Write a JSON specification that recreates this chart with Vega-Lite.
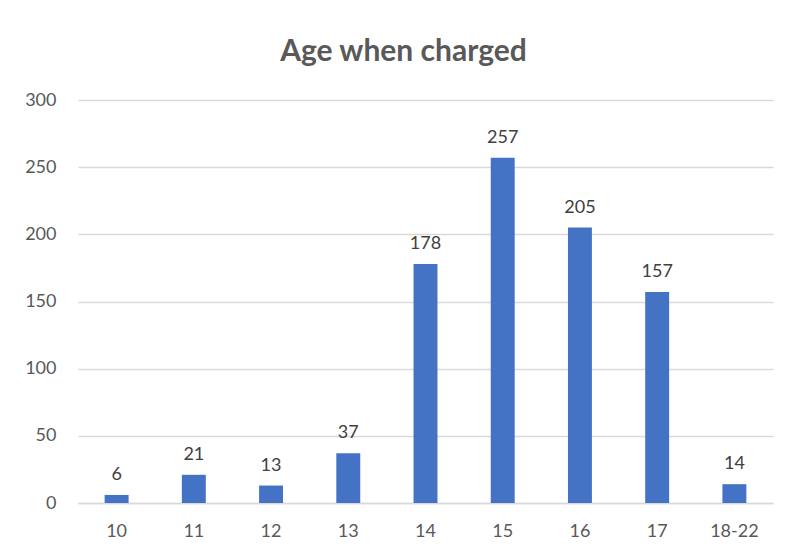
{
  "$schema": "https://vega.github.io/schema/vega-lite/v6.json",
  "width": 695,
  "height": 403,
  "autosize": "none",
  "padding": {"left": 78, "top": 100, "right": 17, "bottom": 51},
  "background": "white",
  "title": {
    "text": "Age when charged",
    "font": "Lato",
    "fontSize": 30,
    "fontWeight": "bold",
    "color": "#595959",
    "anchor": "middle",
    "dx": -22,
    "offset": 24
  },
  "data": {
    "values": [
      {"age": "10", "count": 6},
      {"age": "11", "count": 21},
      {"age": "12", "count": 13},
      {"age": "13", "count": 37},
      {"age": "14", "count": 178},
      {"age": "15", "count": 257},
      {"age": "16", "count": 205},
      {"age": "17", "count": 157},
      {"age": "18-22", "count": 14}
    ]
  },
  "config": {
    "view": {"stroke": null},
    "font": "Lato"
  },
  "encoding": {
    "x": {
      "field": "age",
      "type": "nominal",
      "sort": null,
      "scale": {"paddingInner": 0.69, "paddingOuter": 0.345},
      "axis": {
        "title": null,
        "labelAngle": 0,
        "labelFont": "Lato",
        "labelFontSize": 18,
        "labelColor": "#595959",
        "labelPadding": 19,
        "ticks": false,
        "domainColor": "#D9D9D9",
        "domainWidth": 1.5
      }
    },
    "y": {
      "field": "count",
      "type": "quantitative",
      "scale": {"domain": [0, 300]},
      "axis": {
        "title": null,
        "values": [0, 50, 100, 150, 200, 250, 300],
        "labelFont": "Lato",
        "labelFontSize": 18,
        "labelColor": "#595959",
        "labelPadding": 22,
        "ticks": false,
        "domain": false,
        "gridColor": "#D9D9D9",
        "gridWidth": 1.5
      }
    }
  },
  "layer": [
    {"mark": {"type": "bar", "color": "#4472C4"}},
    {
      "mark": {"type": "text", "baseline": "alphabetic", "dy": -15, "fontSize": 18, "color": "#404040", "font": "Lato"},
      "encoding": {"text": {"field": "count", "type": "quantitative"}}
    }
  ]
}
